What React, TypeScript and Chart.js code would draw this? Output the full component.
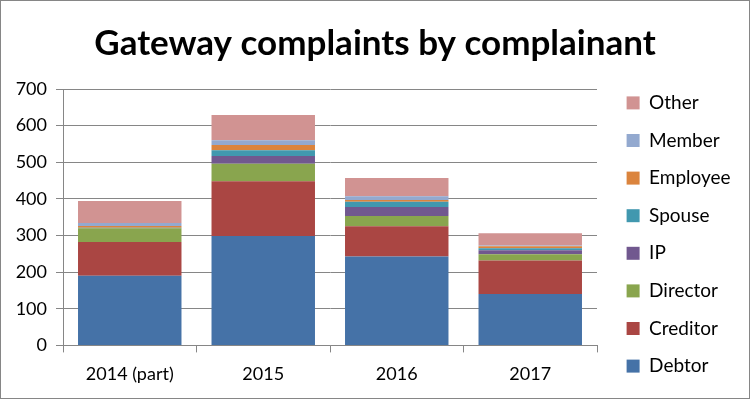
import React, { useEffect, useRef } from "react";
import { Chart, registerables } from "chart.js";

Chart.register(...registerables);

const categories = ["2014 (part)", "2015", "2016", "2017"];
const seriesNames = ["Debtor", "Creditor", "Director", "IP", "Spouse", "Employee", "Member", "Other"];
const debtor = [190, 299, 243, 140];
const creditor = [92, 149, 82, 92];
const director = [38, 48, 28, 17];
const ip = [0, 21, 25, 11];
const spouse = [1, 16, 14, 5];
const employee = [5, 14, 5, 6];
const member = [8, 13, 10, 2];
const other = [60, 69, 50, 33];
const yTicks = [0, 100, 200, 300, 400, 500, 600, 700];

const seriesValues = [debtor, creditor, director, ip, spouse, employee, member, other];
const colors = ["#4572A7", "#AA4643", "#89A54E", "#71588F", "#4198AF", "#DB843D", "#93A9CF", "#D19392"];

const FONT = "Lato, 'Open Sans', sans-serif";

const legendTweak = {
  id: "legendTweak",
  beforeInit(chart: any) {
    const lg = chart.legend;
    if (!lg) return;
    const origFit = lg.fit.bind(lg);
    lg.fit = function () {
      origFit();
      this.width = 152;
      this.maxWidth = 152;
    };
  },
  afterLayout(chart: any) {
    const lg = chart.legend;
    if (!lg) return;
    lg.left += 11;
    lg.right += 11;
    lg.top += 36;
    lg.bottom += 36;
  },
};

export default function App() {
  const ref = useRef<HTMLCanvasElement | null>(null);
  useEffect(() => {
    document.body.style.margin = "0";
    const canvas = ref.current!;
    const chart = new Chart(canvas, {
      type: "bar",
      data: {
        labels: categories,
        datasets: seriesNames.map((n, i) => ({
          label: n,
          data: seriesValues[i],
          backgroundColor: colors[i],
          borderWidth: 0,
          barPercentage: 0.775,
          categoryPercentage: 1,
        })),
      },
      options: {
        animation: false,
        responsive: false,
        maintainAspectRatio: false,
        layout: { padding: { left: 0, right: 0, top: 0, bottom: 2 } },
        plugins: {
          title: {
            display: true,
            text: "Gateway complaints by complainant",
            color: "#000",
            font: { family: FONT, size: 35, weight: "bold" },
            padding: { top: 22, bottom: 24 },
          },
          legend: {
            position: "right",
            reverse: true,
            labels: {
              boxWidth: 13,
              boxHeight: 13,
              padding: 18.6,
              color: "#000",
              font: { family: FONT, size: 19 },
            },
          },
          tooltip: { enabled: false },
        },
        scales: {
          x: {
            stacked: true,
            grid: { drawOnChartArea: false, drawTicks: true, tickLength: 7, color: "#868686" },
            border: { color: "#868686" },
            ticks: { color: "#000", font: { family: FONT, size: 18 }, padding: 11 },
          },
          y: {
            stacked: true,
            min: 0,
            max: 700,
            afterBuildTicks: (s: any) => { s.ticks = yTicks.map((v) => ({ value: v })); },
            afterFit: (s: any) => { s.width = 62; },
            grid: { color: "#868686", tickLength: 7 },
            border: { color: "#868686" },
            ticks: { color: "#000", font: { family: FONT, size: 18 }, padding: 9 },
          },
        },
      },
      plugins: [legendTweak],
    });
    return () => chart.destroy();
  }, []);
  return (
    <div style={{ position: "absolute", left: 0, top: 0, width: 750, height: 399, boxSizing: "border-box", border: "1px solid #868686", background: "#fff" }}>
      <canvas ref={ref} width={748} height={397} style={{ display: "block", width: 748, height: 397 }} />
    </div>
  );
}
